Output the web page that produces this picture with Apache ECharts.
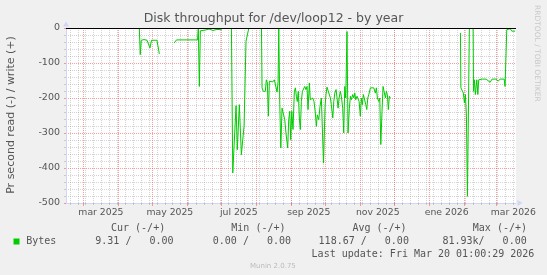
<!DOCTYPE html>
<html>
<head>
<meta charset="utf-8">
<script src="https://cdn.jsdelivr.net/npm/echarts@6/dist/echarts.min.js"></script>
<style>
html,body{margin:0;padding:0;background:#f0f0f0;}
#c{width:547px;height:275px;}
</style>
</head>
<body>
<div id="c"></div>
<script>
// ---------- data ----------
const chartTitle = 'Disk throughput for /dev/loop12 - by year';
const yAxisTitle = 'Pr second read (-) / write (+)';
const sideCredit = 'RRDTOOL / TOBI OETIKER';
const footerText = 'Munin 2.0.75';

const axisStart = '2025-02-13T14:00:00Z';
const axisEnd = '2026-03-18T21:00:00Z';
const firstWeekLine = '2025-02-17T00:00:00Z';
const dataBaseDate = '2025-02-14T00:00:00Z'; // read days are counted from this date

const monthLines = ['2025-03-01','2025-04-01','2025-05-01','2025-06-01','2025-07-01','2025-08-01','2025-09-01','2025-10-01','2025-11-01','2025-12-01','2026-01-01','2026-02-01','2026-03-01'];
const monthLabels = ['mar 2025','may 2025','jul 2025','sep 2025','nov 2025','ene 2026','mar 2026'];
const monthLabelDates = ['2025-03-16T12:00:00Z','2025-05-16T12:00:00Z','2025-07-16T12:00:00Z','2025-09-16T12:00:00Z','2025-11-16T12:00:00Z','2026-01-16T12:00:00Z','2026-03-16T12:00:00Z'];

const yMin = -500, yMax = 0, yStep = 100;

// days since dataBaseDate; null value = no data (gap)
const readDays = [
  64.5, 65.3, 66.2, 68.6, 71.3, 73.0, 73.9, 75.3, 76.6, 80.1, 82.2,
  88,
  95.2, 96.3, 97.4, 104.9, 111.1, 116.0, 116.7, 117.6, 118.5, 119.5, 122.6, 126.2, 129.7, 133.2, 137.5,
  142,
  146.0, 147.2, 150.1, 151.2, 153.0, 154.8, 156.0, 157.2, 158.9, 160.1, 161.3,
  167,
  172.6, 173.1, 174.2, 176.0, 176.9, 177.8, 178.7, 179.6, 181.1, 182.6, 184.0, 185.5, 186.4, 187.3, 187.9, 188.8,
  189.7, 190.8, 192.0, 193.2, 194.3, 195.8, 196.7, 197.6, 198.5, 199.4, 200.5, 201.7, 202.6, 203.5, 204.3, 205.2,
  206.1, 207.0, 207.9, 208.8, 210.0, 210.9, 212.0, 212.9, 213.8, 215.0, 215.8, 216.7, 218.0, 219.1, 220.3, 221.2,
  222.0, 223.3, 224.4, 225.6, 226.8, 227.5, 228.9, 229.7, 230.6, 232.1, 233.6, 234.4, 235.7, 236.6, 237.5, 238.6,
  239.5, 240.4, 241.3, 242.4, 243.3, 244.5, 245.4, 246.3, 247.2, 248.3, 249.2, 250.4, 251.3, 252.1, 253.4, 254.3,
  255.2, 256.0, 257.2, 258.1, 259.0, 260.1, 261.0, 261.9, 262.8, 263.7, 264.9, 265.8, 266.7, 267.6, 269.0, 270.5,
  272.0, 273.4, 274.3, 275.2, 276.4, 277.3, 278.2, 279.3, 280.2, 281.4, 282.3, 283.1, 284.0, 284.9, 285.8, 286.7,
  320,
  348.7, 349.1, 350.1, 351.3, 352.2, 353.1, 354.0, 354.9, 356.6,
  358.2,
  359.9, 360.3, 361.1, 361.9, 363.2, 364.1, 364.9, 367.9, 371.4, 375.0, 376.7, 380.3, 382.1, 383.8, 387.4, 388.2,
  389.7, 390.9, 392.7, 394.2, 395.6, 397.1
];
const readValues = [
  -2, -76, -35, -33, -35, -36, -57, -35, -34, -35, -74,
  null,
  -43, -38, -34, -34, -34, -34, -2, -167, -8, -3, -6, -3, -7, -4, -5,
  null,
  -2, -414, -222, -348, -219, -362, -320, -280, -38, -38, -2,
  null,
  -2, -171, -181, -181, -148, -157, -252, -152, -148, -154, -148, -148, -183, -154, -2, -219,
  -343, -229, -233, -262, -300, -343, -262, -238, -319, -238, -290, -181, -171, -195, -210, -181,
  -257, -290, -210, -181, -176, -167, -176, -167, -233, -157, -205, -210, -200, -210, -243, -281,
  -248, -262, -224, -200, -205, -386, -224, -190, -169, -171, -200, -219, -257, -210, -186, -176,
  -200, -229, -200, -181, -195, -229, -300, -167, -200, -10, -300, -229, -195, -205, -190, -200,
  -186, -205, -195, -195, -210, -252, -200, -219, -190, -195, -219, -233, -200, -190, -171, -176,
  -171, -186, -171, -200, -210, -200, -333, -238, -167, -171, -200, -181, -190, -233, -195, -200,
  null,
  -14, -171, -176, -186, -214, -190, -252, -481, -1,
  null,
  -1, -181, -148, -190, -148, -190, -148, -146, -146, -155, -146, -146, -152, -146, -146, -167,
  -5, -9, -2, -9, -6, -9
];

const seriesName = 'Bytes';
const legendHeaders = ['Cur (-/+)', 'Min (-/+)', 'Avg (-/+)', 'Max (-/+)'];
const legendCells = ['9.31 /   0.00', '0.00 /   0.00', '118.67 /   0.00', '81.93k/   0.00'];
const lastUpdate = 'Last update: Fri Mar 20 01:00:29 2026';

// ---------- build ----------
const DAY = 86400000;
const base = Date.parse(dataBaseDate);
const readData = readDays.map((d, i) => [base + d * DAY, readValues[i]]);
const tMin = Date.parse(axisStart), tMax = Date.parse(axisEnd);
const weekTs = [];
for (let t = Date.parse(firstWeekLine); t <= tMax; t += 7 * DAY) weekTs.push(t);
const monthTs = monthLines.map(s => Date.parse(s + 'T00:00:00Z'));
const labelTs = monthLabelDates.map(s => Date.parse(s));

const GREEN = '#00cc00';
const minorCol = 'rgba(140,140,140,0.38)';
const majorCol = 'rgba(245,79,79,0.55)';
const axisCol = '#cfd6f8';
const fontCol = '#555';
const SANS = '"DejaVu Sans"';
const MONO = '"DejaVu Sans Mono"';

const legendHeaderX = [111, 231.3, 352.4, 472.8];
const legendCellX = [95.3, 212.8, 318.6, 442.4];

function txt(x, y, text, font, fill, align, rotation) {
  return { type: 'text', x: x, y: y, rotation: rotation || 0, silent: true, z: 10,
    style: { text: text, font: font, fill: fill, align: align, verticalAlign: 'middle' } };
}

const graphics = [
  txt(273.5, 19, chartTitle, '12.5px ' + SANS, fontCol, 'center'),
  txt(11, 115, yAxisTitle, '11px ' + SANS, fontCol, 'center', Math.PI / 2),
  txt(536.7, 53.3, sideCredit, '7.5px ' + SANS, '#c8c8c8', 'center', -Math.PI / 2),
  { type: 'rect', shape: { x: 13.5, y: 238.5, width: 6, height: 6 }, style: { fill: GREEN }, silent: true },
  txt(26.2, 241.5, seriesName, '10px ' + MONO, fontCol, 'left'),
  txt(311.6, 254.1, lastUpdate, '10px ' + MONO, fontCol, 'left'),
  txt(272.9, 266.3, footerText, '7px ' + SANS, '#bbbbbb', 'center')
];
legendHeaders.forEach((h, i) => graphics.push(txt(legendHeaderX[i], 228.6, h, '10px ' + MONO, fontCol, 'left')));
legendCells.forEach((c, i) => graphics.push(txt(legendCellX[i], 241.5, c, '10px ' + MONO, fontCol, 'left')));

const xBase = { type: 'value', min: tMin, max: tMax, position: 'bottom', gridIndex: 0, scale: true };

const option = {
  animation: false,
  backgroundColor: '#f0f0f0',
  grid: { left: 66, top: 28, width: 450, height: 175, show: true, backgroundColor: '#ffffff',
          borderWidth: 0, containLabel: false, outerBoundsMode: 'none' },
  xAxis: [
    Object.assign({}, xBase, {
      axisLine: { show: true, onZero: false, lineStyle: { color: axisCol, width: 1 },
                  symbol: ['none', 'triangle'], symbolSize: [6, 5], symbolOffset: [0, 4] },
      axisTick: { show: true, customValues: weekTs, length: 2, lineStyle: { color: minorCol } },
      splitLine: { show: true, lineStyle: { color: minorCol, type: [1, 1], width: 1 } },
      axisLabel: { show: false }
    }),
    Object.assign({}, xBase, {
      axisLine: { show: false, onZero: false },
      axisTick: { show: true, customValues: monthTs, length: 3, lineStyle: { color: majorCol } },
      splitLine: { show: true, lineStyle: { color: majorCol, type: [1, 1], width: 1 } },
      axisLabel: { show: false }
    }),
    Object.assign({}, xBase, {
      axisLine: { show: false, onZero: false },
      axisTick: { show: false },
      splitLine: { show: false },
      axisLabel: { show: true, customValues: labelTs, margin: 5, color: fontCol, fontSize: 9.3, fontFamily: 'DejaVu Sans',
                   hideOverlap: false,
                   formatter: function (v) { const i = labelTs.indexOf(v); return i >= 0 ? monthLabels[i] : ''; } }
    })
  ],
  yAxis: {
    type: 'value', min: yMin, max: yMax, interval: yStep,
    axisLine: { show: true, onZero: false, lineStyle: { color: axisCol, width: 1 },
                symbol: ['none', 'triangle'], symbolSize: [6, 5], symbolOffset: [0, 4] },
    axisTick: { show: true, length: 2, lineStyle: { color: majorCol } },
    minorTick: { show: true, splitNumber: 5, length: 2, lineStyle: { color: minorCol } },
    splitLine: { show: true, lineStyle: { color: majorCol, type: [1, 1], width: 1 } },
    minorSplitLine: { show: true, lineStyle: { color: minorCol, type: [1, 1], width: 1 } },
    axisLabel: { color: fontCol, fontSize: 9.5, fontFamily: 'DejaVu Sans', margin: 6 }
  },
  series: [
    {
      name: seriesName, type: 'line', xAxisIndex: 0, yAxisIndex: 0,
      data: readData, showSymbol: false, symbol: 'none', connectNulls: false, silent: true,
      lineStyle: { color: GREEN, width: 1 }, itemStyle: { color: GREEN }, z: 3,
      markLine: { silent: true, symbol: ['none', 'none'], label: { show: false },
                  lineStyle: { color: '#000000', width: 1, type: 'solid' }, data: [{ yAxis: 0 }] }
    }
  ],
  graphic: graphics
};

const chart = echarts.init(document.getElementById('c'), null, { renderer: 'canvas', width: 547, height: 275 });
chart.setOption(option);
</script>
</body>
</html>
